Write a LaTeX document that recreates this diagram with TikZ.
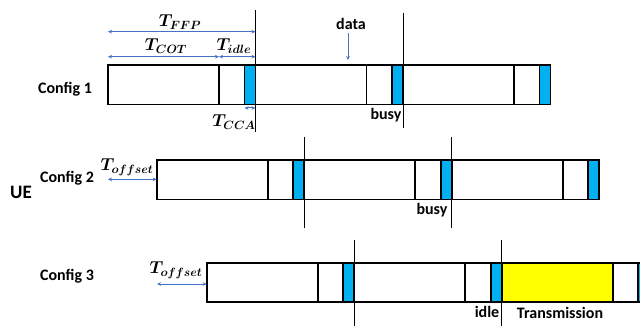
\documentclass[tikz,border=0pt]{standalone}
\usepackage{amsmath}
\usepackage{bm}
\usepackage{fontspec}
\setmainfont{Carlito}
\usetikzlibrary{arrows.meta}
\definecolor{arrowblue}{HTML}{4472C4}
\definecolor{ccablue}{HTML}{00B0F0}
\definecolor{txyellow}{HTML}{FFFF00}
\begin{document}
\begin{tikzpicture}[x=1pt,y=-1pt,
  lbl/.style={font=\bfseries\fontsize{16}{18}\selectfont, inner sep=0pt},
  mth/.style={font=\fontsize{18}{20}\selectfont, inner sep=0pt},
  dim/.style={arrowblue, line width=1pt, {Stealth[length=4pt,width=3.6pt]}-{Stealth[length=4pt,width=3.6pt]}},
  onearrow/.style={arrowblue, line width=1pt, -{Stealth[length=4pt,width=3.6pt]}},
  frm/.style={line width=1.8pt, black},
  tick/.style={line width=0.8pt, black},
  cca/.style={fill=ccablue, draw=black, line width=1.8pt}]
\useasboundingbox (0,0) rectangle (640,326);

% ---------- Config 1 ----------
\draw[frm] (108,65) rectangle (550.5,104.5);
\foreach \x in {219,366.5,514} \draw[frm] (\x,65) -- (\x,104.5);
\draw[cca] (244.5,65) rectangle (255.5,104.5);
\draw[cca] (392,65) rectangle (403,104.5);
\draw[cca] (539.5,65) rectangle (550.5,104.5);
\draw[tick] (255.5,10) -- (255.5,132);
\draw[tick] (403,13) -- (403,128);

% ---------- Config 2 ----------
\draw[frm] (156.7,160) rectangle (599.2,199.5);
\foreach \x in {267.7,415.2,562.7} \draw[frm] (\x,160) -- (\x,199.5);
\draw[cca] (293.2,160) rectangle (304.2,199.5);
\draw[cca] (440.7,160) rectangle (451.7,199.5);
\draw[cca] (588.2,160) rectangle (599.2,199.5);
\draw[tick] (304.2,137) -- (304.2,228);
\draw[tick] (451.7,137) -- (451.7,228);

% ---------- Config 3 ----------
\fill[txyellow] (501.7,262.7) rectangle (612.7,302.2);
\fill[ccablue] (638.2,262.7) rectangle (640,302.2);
\draw[frm] (640,262.7) -- (206.7,262.7) -- (206.7,302.2) -- (640,302.2);
\foreach \x in {317.7,465.2,612.7,638.2} \draw[frm] (\x,262.7) -- (\x,302.2);
\draw[cca] (343.2,262.7) rectangle (354.2,302.2);
\draw[cca] (490.7,262.7) rectangle (501.7,302.2);
\draw[tick] (354.2,240) -- (354.2,326);
\draw[tick] (501.7,240) -- (501.7,326);

% ---------- dimension arrows ----------
\coordinate (ffpA) at (108,31.7);  \coordinate (ffpB) at (255.5,31.7);
\coordinate (cotA) at (108,56.7);  \coordinate (cotB) at (219,56.7);
\coordinate (idlA) at (219,56.7);  \coordinate (idlB) at (255.5,56.7);
\coordinate (ccaA) at (244.5,108); \coordinate (ccaB) at (255.5,108);
\coordinate (offA) at (108,179.3); \coordinate (offB) at (156.7,179.3);
\coordinate (ofcA) at (157,284);   \coordinate (ofcB) at (206.7,284);
\coordinate (datA) at (348,33);    \coordinate (datB) at (348,60);
\draw[dim] (ffpA) -- (ffpB);
\draw[dim] (cotA) -- (cotB);
\draw[dim] (idlA) -- (idlB);
\draw[dim] (ccaA) -- (ccaB);
\draw[dim] (offA) -- (offB);
\draw[dim] (ofcA) -- (ofcB);
\draw[onearrow] (datA) -- (datB);

% ---------- labels ----------
\node[mth] (tffp) at (180,22) {$\bm{T_{FFP}}$};
\node[mth] (tcot) at (166,46) {$\bm{T_{COT}}$};
\node[mth] (tidle) at (234,46) {$\bm{T_{idle}}$};
\node[mth] (tcca) at (234,122) {$\bm{T_{CCA}}$};
\node[mth] (toff2) at (127,167) {$\bm{T_{offset}}$};
\node[mth] (toff3) at (176,270) {$\bm{T_{offset}}$};
\node[lbl] (data) at (351,24) {data};
\node[lbl] (busy1) at (386,115) {busy};
\node[lbl] (busy2) at (432,210) {busy};
\node[lbl] (idle) at (487,312) {idle};
\node[lbl] (trans) at (560,313) {Transmission};
\node[lbl] (cfg1) at (65,89) {Config 1};
\node[lbl] (cfg2) at (67,178) {Config 2};
\node[lbl] (cfg3) at (67,276) {Config 3};
\node[lbl, font=\bfseries\fontsize{19}{21}\selectfont] (ue) at (21,192) {UE};
\end{tikzpicture}
\end{document}
